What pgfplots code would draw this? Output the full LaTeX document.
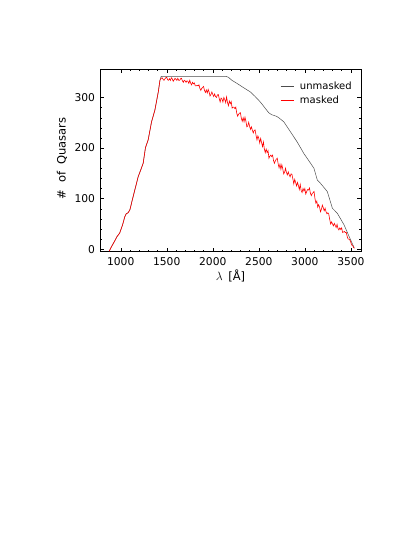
\documentclass[border=0pt]{standalone}
\usepackage{pgfplots}
\pgfplotsset{compat=1.18}
\usepackage{fontspec}
\setmainfont{DejaVu Sans}
\begin{document}
\begin{tikzpicture}
\useasboundingbox (0,0) rectangle (415pt,-537pt);
\begin{axis}[
  at={(100pt,-251.7pt)}, anchor=south west,
  scale only axis, width=261pt, height=182.5pt,
  xmin=775, xmax=3610, ymin=-5, ymax=356,
  xtick={1000,1500,2000,2500,3000,3500},
  ytick={0,100,200,300},
  minor x tick num=4, minor y tick num=4,
  tick align=inside, major tick length=4pt, minor tick length=2pt,
  xtick pos=both, ytick pos=both,
  every tick/.style={black, line width=0.4pt},
  axis line style={black, line width=0.5pt},
  tick label style={font=\fontsize{10.7}{12}\selectfont},
  label style={font=\fontsize{11.5}{13}\selectfont},
  /pgf/number format/assume math mode=true,
  /pgf/number format/1000 sep={},
  xticklabel style={yshift=-2.5pt},
  yticklabel style={xshift=-1.5pt},
  xlabel={$\lambda$\hspace{0.5em}[Å]},
  ylabel={\#\hspace{0.6em}of\hspace{0.6em}Quasars},
  xlabel style={at={(axis description cs:0.5,-0.135)}, anchor=center},
  ylabel style={at={(axis description cs:-0.146,0.51)}, anchor=center},
  legend cell align=left,
  legend style={draw=none, fill=none, at={(0.69,0.945)}, anchor=north west, inner sep=0pt, row sep=1pt, font=\fontsize{10}{12}\selectfont},
]
\addplot[black!70, line width=0.5pt, legend image code/.code={\draw[black!70, line width=0.5pt] (0pt,0pt) -- (13pt,0pt);}] coordinates {
(875,-4) (900,5) (934,16) (960,25) (989,32) (1020,48) (1044,64) (1060,70) (1080,72) (1100,78) (1120,93) (1153,117) (1189,143) (1220,158) (1244,170) (1269,201) (1298,216) (1335,252) (1371,275) (1408,311) (1426,334) (1440,342)
(2140,342) (2170,340) (2208,334) (2262,328) (2330,320) (2408,311) (2460,302) (2517,291) (2560,281) (2607,270) (2640,266) (2690,263) (2717,260) (2771,252) (2844,232) (2917,212) (2990,189) (3062,170) (3099,160) (3135,137) (3171,130) (3244,114) (3299,81) (3353,71) (3426,48) (3481,25) (3510,13) (3536,3)
};
\addlegendentry{\hspace{4pt}unmasked}
\addplot[red, line width=0.6pt, legend image code/.code={\draw[red, line width=0.7pt] (0pt,0pt) -- (13pt,0pt);}] coordinates {
(875,-4) (900,5) (934,16) (960,25) (989,32) (1020,48) (1044,64) (1060,70) (1080,72) (1100,78) (1120,93) (1153,117) (1189,143) (1220,158) (1244,170) (1269,201) (1298,216) (1335,252) (1371,275) (1408,311) (1426,334)
(1440,338) (1450,339) (1460,336) (1470,334) (1480,337) (1490,339) (1500,340) (1510,335) (1520,334) (1530,337) (1540,334) (1550,339) (1560,337) (1570,332) (1580,335) (1590,338) (1600,336) (1610,334) (1620,338) (1630,334)
(1640,334) (1650,337) (1660,338) (1670,333) (1680,330) (1690,334) (1700,333) (1710,330) (1720,333) (1730,332) (1740,328) (1750,334) (1760,328) (1770,325) (1780,330) (1790,327) (1800,329) (1810,323) (1820,323) (1830,324)
(1840,323) (1850,325) (1860,318) (1870,314) (1880,318) (1890,320) (1900,322) (1910,314) (1920,310) (1930,315) (1940,309) (1950,316) (1960,311) (1970,303) (1980,306) (1990,311) (2000,306) (2010,302) (2020,307) (2030,302)
(2040,300) (2050,305) (2060,306) (2070,298) (2080,291) (2090,299) (2100,297) (2110,291) (2120,300) (2130,296) (2140,290) (2150,301) (2160,290) (2170,284) (2180,293) (2190,288) (2200,292) (2210,279) (2220,281) (2230,281)
(2240,278) (2250,281) (2260,269) (2270,263) (2280,267) (2290,269) (2300,270) (2310,259) (2320,253) (2330,260) (2340,252) (2350,261) (2360,253) (2370,242) (2380,244) (2390,251) (2400,243) (2410,237) (2420,242) (2430,235)
(2440,230) (2450,235) (2460,236) (2470,225) (2480,216) (2490,224) (2500,219) (2510,210) (2520,219) (2530,211) (2540,203) (2550,212) (2560,198) (2570,191) (2580,198) (2590,191) (2600,195) (2610,180) (2620,184) (2630,186)
(2640,183) (2650,186) (2660,175) (2670,170) (2680,175) (2690,178) (2700,180) (2710,169) (2720,161) (2730,168) (2740,158) (2750,167) (2760,159) (2770,149) (2780,152) (2790,160) (2800,152) (2810,147) (2820,153) (2830,147)
(2840,143) (2850,149) (2860,148) (2870,139) (2880,129) (2890,138) (2900,132) (2910,125) (2920,132) (2930,126) (2940,118) (2950,128) (2960,116) (2970,112) (2980,120) (2990,115) (3000,120) (3010,109) (3020,114) (3030,118)
(3040,117) (3050,121) (3060,111) (3070,106) (3080,110) (3090,112) (3100,114) (3110,100) (3120,91) (3130,95) (3140,83) (3150,88) (3160,83) (3170,74) (3180,79) (3190,87) (3200,82) (3210,76) (3220,81) (3230,74)
(3240,70) (3250,72) (3260,69) (3270,59) (3280,50) (3290,54) (3300,50) (3310,46) (3320,51) (3330,47) (3340,43) (3350,49) (3360,41) (3370,38) (3380,42) (3390,39) (3400,42) (3410,33) (3420,34) (3430,35)
(3440,33) (3450,33) (3460,25) (3470,20) (3480,20) (3490,18) (3500,13) (3510,8) (3520,7) (3530,3) (3540,2)
};
\addlegendentry{\hspace{4pt}masked}
\end{axis}
\end{tikzpicture}
\end{document}
